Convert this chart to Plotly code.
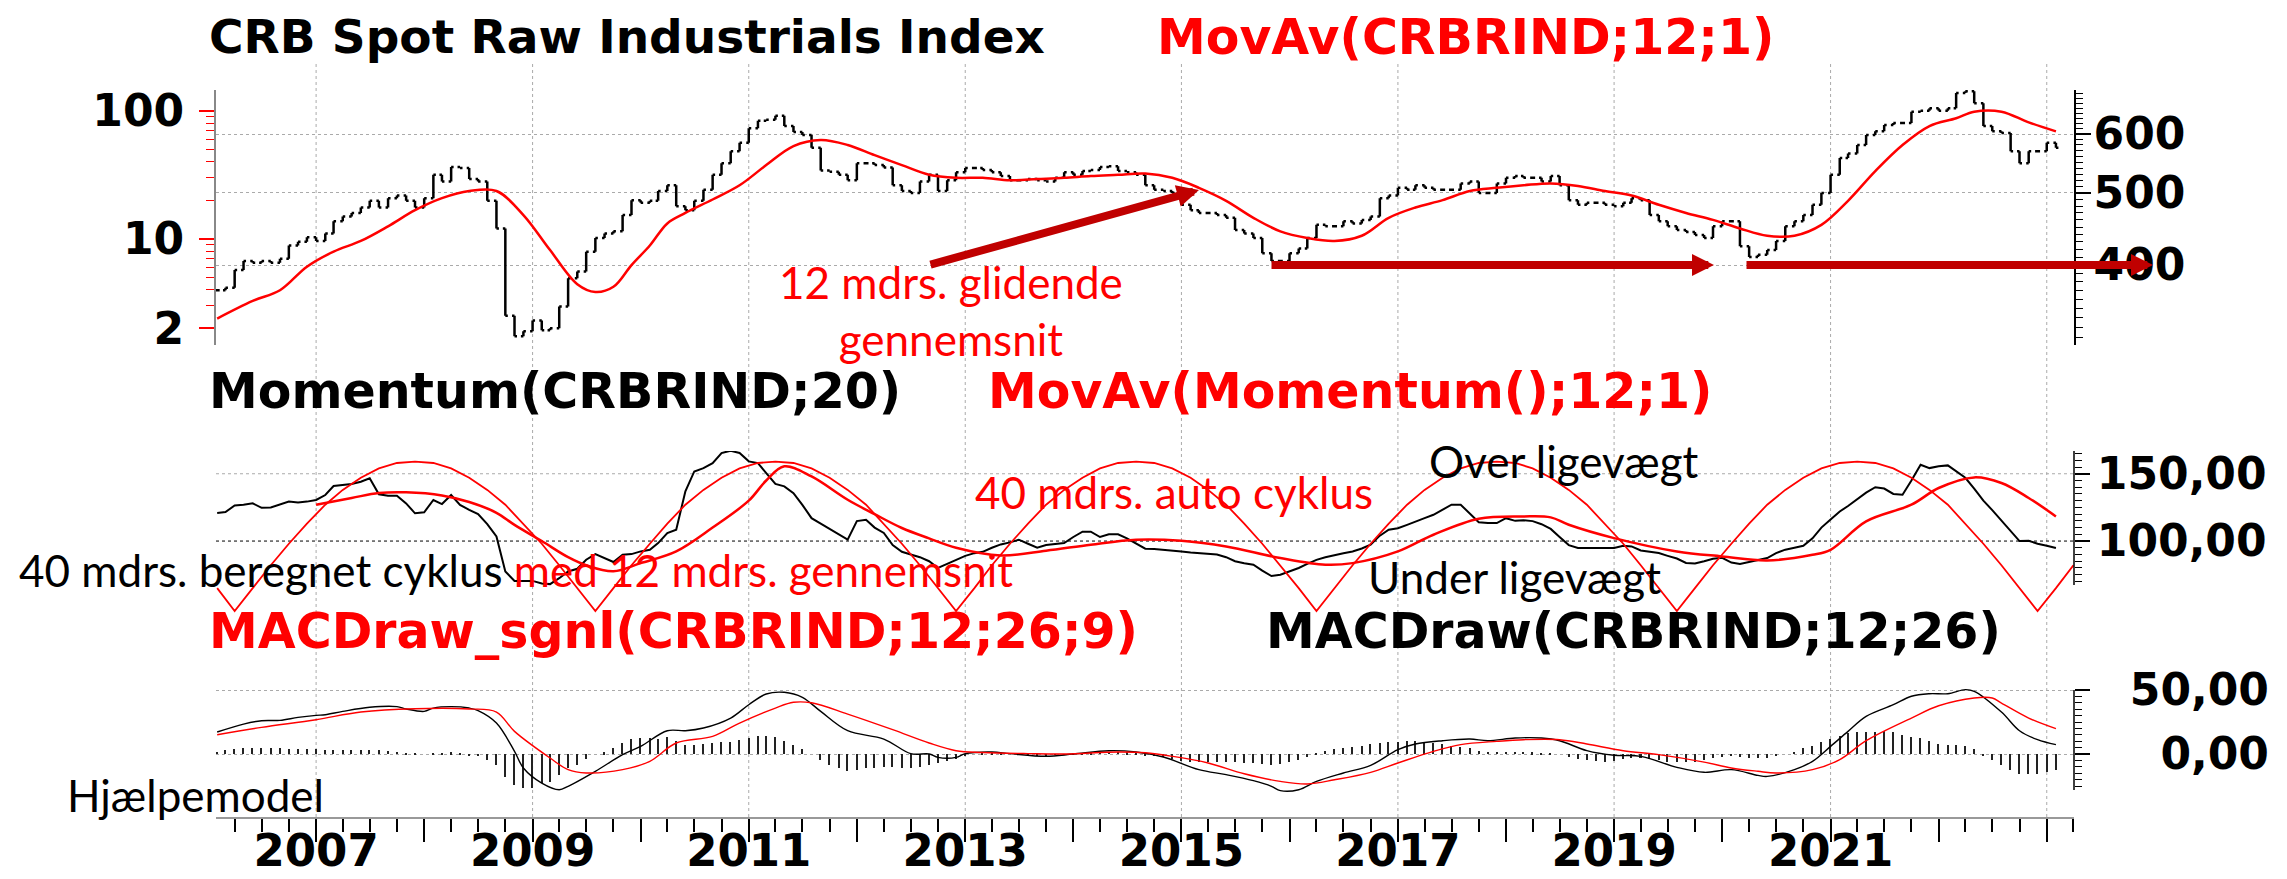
import plotly.graph_objects as go
import pandas as pd

# ---- data: monthly, first point Feb 2006 ----
start_month = "2006-02-01"

crb_close = [370, 373, 394, 405, 403, 405, 403, 408, 425, 430, 436, 431,
             441, 458, 465, 470, 478, 488, 478, 492, 496, 488, 478, 492,
             529, 518, 542, 540, 522, 518, 488, 448, 342, 321, 326, 337,
             327, 329, 352, 384, 392, 417, 435, 441, 444, 467, 489, 485,
             488, 503, 512, 480, 474, 488, 505, 529, 548, 569, 584, 611,
             625, 627, 635, 615, 604, 598, 575, 536, 534, 529, 520, 548,
             548, 545, 541, 512, 503, 500, 518, 529, 503, 520, 533, 540,
             540, 537, 533, 527, 520, 520, 522, 520, 518, 524, 533, 529,
             535, 537, 542, 543, 535, 533, 529, 512, 505, 503, 500, 482,
             474, 470, 470, 467, 463, 446, 441, 435, 415, 405, 405, 415,
             421, 435, 453, 451, 451, 458, 455, 460, 465, 492, 496, 508,
             505, 512, 508, 505, 505, 505, 515, 518, 500, 500, 515, 524,
             527, 524, 524, 518, 527, 512, 489, 482, 485, 485, 482, 480,
             485, 492, 489, 467, 458, 451, 446, 443, 439, 435, 451, 458,
             458, 424, 410, 413, 419, 431, 451, 458, 467, 482, 500, 529,
             557, 565, 580, 598, 605, 617, 621, 621, 643, 645, 650, 645,
             650, 681, 685, 660, 615, 605, 602, 569, 548, 569, 569, 584,
             575]

# 12 month moving average of the index (month number from start, value)
crb_ma_month = [0, 4, 7, 10, 13, 16, 19, 22, 25, 28, 31, 34, 37, 40, 42, 44,
                46, 48, 50, 52, 55, 58, 61, 64, 67, 70, 73, 76, 79, 82, 85,
                88, 91, 94, 97, 100, 103, 106, 109, 112, 115, 118, 121, 124,
                127, 130, 133, 136, 139, 142, 145, 148, 151, 154, 157, 160,
                163, 166, 169, 172, 175, 178, 181, 184, 187, 190, 193, 195,
                198, 201, 204]
crb_ma = [339, 358, 370, 398, 417, 431, 451, 474, 492, 503, 503, 467, 419,
          377, 368, 374, 400, 425, 455, 470, 490, 512, 545, 578, 589, 580,
          562, 545, 529, 524, 524, 520, 522, 524, 527, 529, 531, 524, 508,
          488, 463, 444, 435, 431, 438, 463, 478, 489, 503, 508, 512, 515,
          511, 503, 496, 482, 470, 460, 448, 438, 438, 453, 488, 535, 580,
          615, 630, 643, 643, 622, 605]

momentum = [120.8, 121.5, 126.5, 126.9, 128, 124.7, 125, 126.9, 129.3, 128.7,
            129.3, 130.5, 134.2, 140.9, 141.6, 142.4, 144.1, 146.6, 134.7,
            133.7, 133.7, 128, 120.6, 121.4, 130.5, 127.5, 134.2, 126.9,
            123.2, 120, 112.6, 103.4, 77.4, 70.4, 70.4, 70.4, 68.5, 68,
            72.4, 77.4, 79.4, 86.1, 90.3, 87.3, 84.4, 89.8, 90.3, 92.3,
            93.5, 98.5, 105.9, 108.4, 136.9, 151.7, 154.2, 157.9, 165.4,
            167.1, 165.4, 159.2, 157.9, 150.5, 142.4, 140.6, 135.6, 126.9,
            117, 113, 109, 105, 101, 114.8, 115.8, 110, 106, 97, 92, 90, 88,
            85, 80, 83, 86, 89, 91, 92, 95, 97.5, 99, 101, 98, 95, 97, 97.5,
            98.5, 103, 107, 107, 103, 105, 105, 102, 98, 94.3, 94, 93.6, 93,
            92.3, 91.5, 91, 90.5, 90, 88, 85, 83.5, 82.4, 78, 74, 75, 77.5,
            80, 83, 86, 88, 89.8, 91, 92.3, 94.5, 97.3, 104, 108.4, 109.5,
            112, 114.6, 117, 119.5, 123, 127, 127, 120, 114, 113.4, 113.4,
            117, 115, 115.5, 114.8, 112.5, 109, 103, 97, 94.8, 94.8, 94.5,
            94.3, 94.8, 96.5, 96, 93, 92, 91.1, 89, 87, 83.7, 83.3, 85, 86.8,
            87.5, 84, 83, 84.5, 86, 87.4, 91, 93.6, 95, 96.5, 102, 110, 116,
            122, 126, 131, 136, 140, 139, 135, 134.4, 145, 156.7, 154.2,
            155.5, 156.2, 152, 147, 139, 130, 123, 115, 107, 100, 100.2, 98,
            96.5, 94.8]

mom_ma_month = [11, 15, 18, 21, 25, 28, 31, 33, 36, 39, 41, 44, 47, 51, 55,
                59, 61, 63, 66, 70, 73, 76, 79, 82, 87, 92, 97, 102, 107, 112,
                118, 123, 126, 131, 135, 140, 145, 148, 150, 155, 162, 167,
                172, 177, 179, 183, 188, 191, 195, 198, 201, 204]
mom_ma = [127, 132, 135.7, 136.2, 133.9, 129, 121, 112, 100, 88, 82, 77.5,
          83.6, 92.3, 110, 130, 145, 155.5, 148, 130.7, 120, 109.7, 102, 95,
          89.3, 92.8, 97.3, 101, 100.2, 96, 87.4, 82.4, 83.6, 92.3, 104.7,
          116.6, 118.3, 117.6, 112.1, 102.2, 92.3, 88.6, 85.6, 89.8, 93.5,
          114.6, 127, 139.4, 147.3, 143.1, 132, 118.3]

# 40 month cycle, read every second month from Feb 2006 to Apr 2023
cycle = [65,
         48, 65, 82, 98, 113, 127, 138, 147, 154, 158, 159, 158, 154, 147, 138, 127, 113, 98, 82, 65,
         48, 65, 82, 98, 113, 127, 138, 147, 154, 158, 159, 158, 154, 147, 138, 127, 113, 98, 82, 65,
         48, 65, 82, 98, 113, 127, 138, 147, 154, 158, 159, 158, 154, 147, 138, 127, 113, 98, 82, 65,
         48, 65, 82, 98, 113, 127, 138, 147, 154, 158, 159, 158, 154, 147, 138, 127, 113, 98, 82, 65,
         48, 65, 82, 98, 113, 127, 138, 147, 154, 158, 159, 158, 154, 147, 138, 127, 113, 98, 82, 65,
         48, 65, 82]

macd_month = [0, 3, 5, 7, 9, 11, 12, 14, 17, 20, 21, 23, 24, 26, 28, 29, 31,
              33, 34, 36, 38, 39, 42, 45, 47, 50, 52, 54, 57, 59, 61, 63, 65,
              67, 70, 74, 77, 79, 80, 82, 83, 86, 88, 92, 95, 99, 102, 105,
              109, 112, 115, 117, 118, 120, 122, 125, 128, 131, 133, 136, 139,
              141, 144, 147, 149, 152, 155, 158, 162, 165, 168, 171, 172, 175,
              177, 179, 181, 183, 186, 188, 190, 192, 194, 195, 198, 200, 202,
              204]
macd = [17.2, 23.4, 26, 26.3, 28.6, 30.2, 30.7, 33.3, 36.5, 37, 35.2, 33.3,
        35.9, 37, 35.9, 33.9, 24.2, 2.1, -10.9, -22.7, -27.9, -25.2, -13.5,
        -0.5, 6, 18.2, 18.2, 20.3, 28.1, 38.5, 46.9, 48.2, 44.3, 33.3, 18.2,
        11.7, 0.3, 0, -2.6, -2.6, 0.3, 1.6, 0.3, -1.8, 0, 2.6, 1.6, -2.3,
        -12.2, -16.1, -20.8, -25.2, -28.6, -27.9, -21.4, -14.8, -8.9, 3.4,
        7.8, 10.4, 11.7, 10.4, 12.5, 12.5, 10.4, 2.6, -1, -1.8, -10.4, -14.3,
        -12.2, -16.7, -17.5, -12.2, -5.7, 6, 17.7, 29.4, 38.5, 45.1, 47.1,
        47.1, 50.3, 49, 32.8, 18.2, 11.2, 7.3]

signal_month = [0, 5, 11, 16, 22, 28, 31, 33, 37, 39, 41, 45, 48, 51, 55, 58,
                62, 64, 66, 70, 75, 79, 82, 85, 90, 94, 100, 103, 106, 110,
                114, 118, 121, 124, 128, 131, 135, 138, 142, 145, 149, 152,
                156, 160, 165, 168, 171, 173, 177, 180, 183, 188, 191, 195,
                197, 198, 201, 204]
signal = [15.1, 20.8, 26.8, 32.8, 35.4, 35.2, 32.8, 17.7, -3.1, -12.2, -14.8,
          -12.2, -5.7, 8.6, 13.8, 24.2, 35.9, 40.4, 40, 31.2, 19, 8.6, 2.6,
          1.2, 0.3, 0, 1.6, 1, -1.8, -7, -15.4, -21.4, -23.4, -20.1, -14.3,
          -7, 2.1, 7.3, 9.9, 11.2, 11.2, 7.8, 2.6, -0.5, -6.3, -10.9, -13.5,
          -14.8, -12.2, -4.4, 10.4, 28.1, 37.7, 43.8, 43.8, 39.8, 28.1, 19.8]

histogram = [1.8, 3, 3.9, 5, 5, 5, 4.4, 4.4, 3.9, 3.9, 3.9, 3.9, 3.1, 3.1, 3.1,
             3.1, 3.1, 3.1, 3.1, 2.6, 1.8, 1, 0.5, 0, 0.5, 0.8, 1.3, 0.3, -0.8,
             -0.8, -4.7, -8.6, -17.7, -24, -26.8, -26.8, -23, -21.6, -16.4,
             -11.2, -8.6, -3.9, 0, 1.3, 4.4, 8.9, 11.7, 12.2, 12.2, 11.5, 13.5,
             10.4, 7, 7, 7.6, 8.3, 9.1, 9.6, 10.9, 12.8, 14.1, 14, 13, 10, 7.3,
             4, 0, -4.7, -8.6, -11.2, -13, -12.5, -11.2, -10.6, -10.2, -9.9,
             -10.6, -11.2, -9.9, -8.6, -7.3, -5.5, -3.9, -0.8, 0, 0.8, 0.8, 0.3,
             0, 0, -0.3, -0.8, -0.8, -0.5, -0.3, 0.3, 1.0, 1.3, 1.8, 1.8, 1.8,
             1.3, 0.3, -0.8, -1.5, -2.6, -3.9, -5.5, -6.5, -6.5, -6.5, -6.5,
             -6.5, -6.5, -7.3, -7.3, -8, -8.6, -8, -6.5, -4.7, -2.1, 0.5, 2.3,
             3.9, 5, 5.7, 6.5, 7.6, 8.3, 9.1, 9.6, 10.2, 10.2, 9.6, 8.3, 7.6,
             6.5, 5.7, 4.4, 2.3, 1.8, 1.8, 1.8, 1.8, 1.8, 1.3, 1.0, 0.5, 0,
             -2.1, -3.9, -4.7, -5.5, -6, -5.5, -3.9, -2.9, -2.9, -3.9, -4.7, -6,
             -6.5, -6, -6, -4.7, -3.4, -2.1, -0.8, -2.1, -3.4, -3.4, -3.4, -0.8,
             0, 1.8, 4.4, 6.5, 9.1, 11.7, 14.3, 16.1, 16.9, 17.4, 17.4, 18,
             16.9, 14.8, 13.5, 12.2, 10.2, 7.6, 7, 7, 6.5, 3.9, -0.8, -4.7,
             -8.6, -12.5, -15.6, -15.6, -15.6, -13.8, -12.5]

years = list(range(2007, 2024))
year_text = [str(y) if (y % 2 and y < 2023) else "" for y in years]

# ---- page geometry (pixels) ----
W, H = 2287, 879
L, R, T, B = 208, 2066, 55, 809


def px(x):
    return (x - L) / (R - L)


def py(y):
    return (B - y) / (B - T)


months = pd.date_range(start_month, periods=207, freq="MS")
n = len(crb_close)
opens = [crb_close[0]] + crb_close[:-1]
highs = [max(a, b) for a, b in zip(opens, crb_close)]
lows = [min(a, b) for a, b in zip(opens, crb_close)]

RED = "#FF0000"
DARKRED = "#C00000"
BOLD = dict(family="DejaVu Sans", size=44, color="black", weight="bold")

fig = go.Figure()

fig.add_trace(go.Ohlc(x=months[:n], open=opens, high=highs, low=lows, close=crb_close,
                      increasing=dict(line=dict(color="black", width=2.5)),
                      decreasing=dict(line=dict(color="black", width=2.5)),
                      tickwidth=0.3, xaxis="x", yaxis="y", showlegend=False))
fig.add_trace(go.Scatter(x=[months[i] for i in crb_ma_month], y=crb_ma, mode="lines",
                         line=dict(color=RED, width=2.5, shape="spline"),
                         xaxis="x", yaxis="y", showlegend=False))
# left hand scale of the top panel carries no series of its own
fig.add_trace(go.Scatter(x=[], y=[], xaxis="x", yaxis="y2", showlegend=False))

fig.add_trace(go.Scatter(x=months[:n], y=momentum, mode="lines",
                         line=dict(color="black", width=2),
                         xaxis="x", yaxis="y3", showlegend=False))
fig.add_trace(go.Scatter(x=[months[i] for i in mom_ma_month], y=mom_ma, mode="lines",
                         line=dict(color=RED, width=2.5, shape="spline"),
                         xaxis="x", yaxis="y3", showlegend=False))
fig.add_trace(go.Scatter(x=months[::2], y=cycle, mode="lines",
                         line=dict(color=RED, width=1.8),
                         xaxis="x", yaxis="y3", showlegend=False))

fig.add_trace(go.Bar(x=months[:n], y=histogram, width=4.4e8, marker_color="#222",
                     marker_line_width=0, xaxis="x", yaxis="y4", showlegend=False))
fig.add_trace(go.Scatter(x=[months[i] for i in macd_month], y=macd, mode="lines",
                         line=dict(color="black", width=1.4, shape="spline"),
                         xaxis="x", yaxis="y4", showlegend=False))
fig.add_trace(go.Scatter(x=[months[i] for i in signal_month], y=signal, mode="lines",
                         line=dict(color=RED, width=1.4, shape="spline"),
                         xaxis="x", yaxis="y4", showlegend=False))

# vertical dotted grid through all panels
shapes = []
for y in years:
    if y % 2:
        shapes.append(dict(type="line", xref="x", yref="paper", x0=f"{y}-01-01", x1=f"{y}-01-01",
                           y0=0, y1=1, line=dict(color="#AAAAAA", width=1, dash="dot"), layer="below"))
shapes += [
    dict(type="line", xref="paper", yref="y3", x0=0, x1=1, y0=150, y1=150,
         line=dict(color="#AAAAAA", width=1, dash="dot"), layer="below"),
    dict(type="line", xref="paper", yref="y3", x0=0, x1=1, y0=100, y1=100,
         line=dict(color="black", width=1, dash="dot"), layer="below"),
    dict(type="line", xref="paper", yref="paper", x0=1, x1=1, y0=py(577), y1=py(443),
         line=dict(color="black", width=1.5)),
    dict(type="line", xref="paper", yref="paper", x0=1, x1=1, y0=py(782), y1=py(682),
         line=dict(color="black", width=1.5)),
]

TITLE = dict(family="DejaVu Sans", size=47, weight="bold")
TITLE_W = dict(family="DejaVu Sans", size=49, weight="bold")
NOTE = dict(family="Lato", size=44)


def label(text, x, y, color, font, anchor="middle"):
    return dict(text=text, x=px(x), y=py(y), xref="paper", yref="paper",
                xanchor="left", yanchor=anchor, showarrow=False, borderpad=0,
                font=dict(color=color, **font))


def arrow(x0, y0, x1, y1):
    return dict(text="", x=px(x1), y=py(y1), xref="paper", yref="paper",
                ax=x0 - x1, ay=y0 - y1, showarrow=True, arrowhead=2, arrowsize=0.55,
                arrowwidth=8, arrowcolor=DARKRED, standoff=0)


annotations = [
    label("CRB Spot Raw Industrials Index", 200, 0, "black", TITLE, "top"),
    label("MovAv(CRBRIND;12;1)", 1148, 0, RED, TITLE_W, "top"),
    label("Momentum(CRBRIND;20)", 200, 383, "black", TITLE_W),
    label("MovAv(Momentum();12;1)", 979, 383, RED, TITLE_W),
    label("MACDraw_sgnl(CRBRIND;12;26;9)", 200, 623, RED, TITLE_W),
    label("MACDraw(CRBRIND;12;26)", 1257, 623, "black", TITLE_W),
    label("12 mdrs. glidende<br>gennemsnit", 770, 302, RED, NOTE),
    label("40 mdrs. beregnet cyklus <span style='color:#FF0000'>med 12 mdrs. gennemsnit</span>",
          10, 562, "black", NOTE),
    label("40 mdrs. auto cyklus", 966, 484, RED, NOTE),
    label("Over ligevægt", 1420, 453, "black", NOTE),
    label("Under ligevægt", 1359, 569, "black", NOTE),
    label("Hjælpemodel", 58, 787, "black", NOTE),
    arrow(921, 257, 1191, 182),
    arrow(1262, 257, 1706, 257),
    arrow(1737, 257, 2145, 257),
]

top_minor = [v for v in range(320, 690, 10) if v % 100]
left_minor = [3, 4, 5, 6, 7, 8, 9, 20, 30, 40, 50, 60, 70, 80, 90]
mid_minor = [v for v in range(70, 170, 5) if v not in (100, 150)]
macd_minor = [v for v in range(-25, 50, 5) if v != 0]

fig.update_layout(
    width=W, height=H, autosize=False,
    margin=dict(l=L, r=W - R, t=T, b=H - B, pad=0),
    paper_bgcolor="white", plot_bgcolor="white",
    showlegend=False, bargap=0,
    shapes=shapes, annotations=annotations,
    xaxis=dict(domain=[0, 1], anchor="y4", type="date", automargin=False,
               range=["2006-01-28", "2023-04-03"], rangeslider=dict(visible=False),
               showline=True, linecolor="#999999", linewidth=2, showgrid=False, zeroline=False,
               ticks="outside", ticklen=23, tickwidth=1.5, tickcolor="black",
               tickmode="array", tickvals=[f"{y}-01-01" for y in years], ticktext=year_text,
               tickfont=dict(family="DejaVu Sans", size=45, color="black", weight="bold"),
               ticklabelstandoff=-30,
               minor=dict(ticks="outside", dtick="M3", tick0="2006-01-01", ticklen=13,
                          tickwidth=1.5, tickcolor="black")),
    yaxis=dict(domain=[py(337), py(82)], anchor="x", side="right", type="log", automargin=False,
               range=[2.4947, 2.8373], tickmode="array", tickvals=[400, 500, 600],
               ticktext=["400", "500", "600"], ticks="outside", ticklen=15, tickwidth=1.5,
               tickcolor="black", showline=True, linecolor="black", linewidth=1.5,
               showgrid=True, gridcolor="#AAAAAA", griddash="dot", gridwidth=1,
               zeroline=False, tickfont=BOLD, ticklabelstandoff=-6,
               minor=dict(tickmode="array", tickvals=top_minor, ticks="outside", ticklen=7,
                          tickwidth=1, tickcolor="black", showgrid=False)),
    yaxis2=dict(overlaying="y", anchor="x", side="left", type="log", automargin=False,
                range=[0.1719, 2.1641], tickmode="array", tickvals=[2, 10, 100],
                ticktext=["2", "10", "100"], ticks="outside", ticklen=15, tickwidth=1.5,
                tickcolor=RED, showline=True, linecolor="#888888", linewidth=2,
                showgrid=False, zeroline=False, tickfont=BOLD, ticklabelstandoff=6,
                minor=dict(tickmode="array", tickvals=left_minor, ticks="outside", ticklen=8,
                           tickwidth=1, tickcolor=RED, showgrid=False)),
    yaxis3=dict(domain=[py(606), py(443)], anchor="x", side="right", automargin=False,
                range=[45.8, 166.9], tickmode="array", tickvals=[100, 150],
                ticktext=["100,00", "150,00"], ticks="outside", ticklen=15, tickwidth=1.5,
                tickcolor="black", showline=False, showgrid=False, zeroline=False,
                tickfont=BOLD, ticklabelstandoff=-2,
                minor=dict(tickmode="array", tickvals=mid_minor, ticks="outside", ticklen=7,
                           tickwidth=1, tickcolor="black", showgrid=False)),
    yaxis4=dict(domain=[0, py(655)], anchor="x", side="right", automargin=False,
                range=[-49.2, 71.1], tickmode="array", tickvals=[0, 50],
                ticktext=["\u20070,00", "50,00"], ticks="outside", ticklen=15, tickwidth=1.5,
                tickcolor="black", showline=False, showgrid=True, gridcolor="#AAAAAA",
                griddash="dot", gridwidth=1, zeroline=False, tickfont=BOLD,
                ticklabelstandoff=31,
                minor=dict(tickmode="array", tickvals=macd_minor, ticks="outside", ticklen=7,
                           tickwidth=1, tickcolor="black", showgrid=False)),
)

fig.write_html("out.html")
